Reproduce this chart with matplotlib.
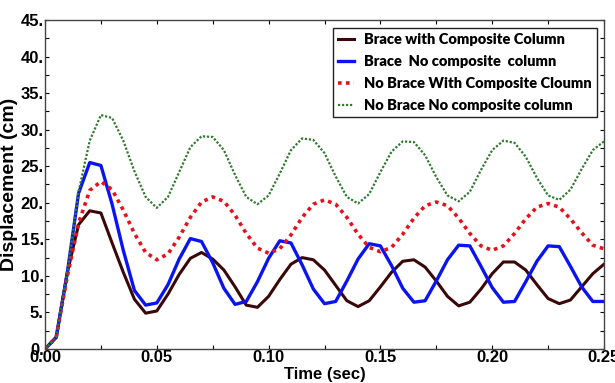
import matplotlib
matplotlib.use("Agg")
import matplotlib.pyplot as plt
from matplotlib.ticker import MultipleLocator, FormatStrFormatter
import numpy as np

# Data (time step 0.005 s)
time_sec = np.round(np.arange(0, 0.2501, 0.005), 3)

brace_composite = [0, 1.6, 10.5, 17.0, 18.9, 18.6, 14.5, 10.5, 6.8, 4.9,
                   5.2, 7.5, 10.2, 12.4, 13.2, 12.3, 10.8, 8.5, 6.0, 5.7,
                   7.2, 9.5, 11.6, 12.5, 12.2, 10.8, 8.7, 6.6, 5.8, 6.6,
                   8.5, 10.5, 12.0, 12.2, 11.2, 9.3, 7.2, 5.9, 6.4, 8.2,
                   10.3, 11.9, 11.9, 10.8, 8.8, 6.9, 6.2, 6.7, 8.5, 10.3,
                   11.6]
brace_no_composite = [0, 1.6, 10.5, 21.3, 25.5, 25.1, 19.8, 13.5, 8.0, 6.0,
                      6.3, 8.8, 12.3, 15.1, 14.7, 11.8, 8.3, 6.1, 6.5, 9.2,
                      12.4, 14.8, 14.5, 11.5, 8.2, 6.2, 6.5, 9.3, 12.3, 14.4,
                      14.1, 11.4, 8.3, 6.4, 6.6, 9.3, 12.2, 14.2, 14.1, 11.3,
                      8.4, 6.4, 6.5, 9.2, 12.0, 14.1, 14.0, 11.3, 8.5, 6.5,
                      6.5]
nobrace_composite = [0, 1.6, 10.0, 17.2, 21.7, 22.9, 21.8, 19.0, 15.8, 13.2,
                     12.2, 13.0, 15.3, 18.0, 20.1, 20.8, 20.2, 18.3, 15.8, 13.8,
                     13.1, 13.7, 15.6, 18.0, 19.8, 20.4, 19.8, 18.0, 15.7, 13.9,
                     13.3, 13.9, 15.7, 17.9, 19.6, 20.1, 19.6, 17.9, 15.8, 14.1,
                     13.5, 14.1, 15.8, 17.8, 19.4, 19.9, 19.4, 17.8, 15.9, 14.2,
                     13.7]
nobrace_no_composite = [0, 1.6, 10.5, 21.5, 28.5, 32.0, 31.6, 28.5, 24.3, 20.8,
                        19.3, 20.8, 24.2, 27.6, 29.1, 29.0, 27.2, 23.8, 20.8, 19.8,
                        21.0, 24.0, 27.2, 28.8, 28.6, 26.8, 23.6, 20.8, 19.9, 21.2,
                        24.2, 27.0, 28.4, 28.3, 26.5, 23.5, 21.0, 20.2, 21.5, 24.5,
                        27.2, 28.5, 28.2, 26.3, 23.4, 21.0, 20.4, 21.8, 24.6, 27.2,
                        28.4]

labels = ["Brace with Composite Column",
          "Brace  No composite  column",
          "No Brace With Composite Cloumn",
          "No Brace No composite column"]

plt.rcParams["font.family"] = ["Liberation Sans Narrow", "Liberation Sans", "DejaVu Sans"]
plt.rcParams["font.weight"] = "bold"

fig = plt.figure(figsize=(6.15, 3.83), dpi=100)
ax = fig.add_axes([0.0732, 0.0888, 0.9089, 0.859])

ax.plot(time_sec, brace_composite, color="#3a0808", lw=2.2, label=labels[0])
ax.plot(time_sec, brace_no_composite, color="#0a14f0", lw=2.4, label=labels[1])
ax.plot(time_sec, nobrace_composite, color="#e8101a", lw=2.6, ls=(0, (1, 1.2)),
        label=labels[2])
ax.plot(time_sec, nobrace_no_composite, color="#2f7a2f", lw=1.6, ls=(0, (1, 0.8)),
        label=labels[3])

ax.set_xlim(0, 0.25)
ax.set_ylim(0, 45)
ax.xaxis.set_major_locator(MultipleLocator(0.05))
ax.xaxis.set_minor_locator(MultipleLocator(0.025))
ax.xaxis.set_major_formatter(FormatStrFormatter("%.2f"))
ax.yaxis.set_major_locator(MultipleLocator(5))
ax.yaxis.set_minor_locator(MultipleLocator(2.5))
ax.yaxis.set_major_formatter(FormatStrFormatter("%d."))
ax.tick_params(which="both", direction="in", top=True, right=True,
               length=3, width=0.8, labelsize=12, pad=1)
for lbl in ax.get_xticklabels() + ax.get_yticklabels():
    lbl.set_fontweight("bold")
for s in ax.spines.values():
    s.set_linewidth(1.0)
    s.set_color("#444444")

ax.set_xlabel("Time (sec)", fontsize=12, fontweight="bold", labelpad=1)
ax.set_ylabel("Displacement (cm)", fontsize=14, fontweight="bold",
              family=["Liberation Sans", "DejaVu Sans"], labelpad=2)

leg = ax.legend(loc="upper right", bbox_to_anchor=(0.988, 0.976), borderaxespad=0,
                prop={"family": ["Lato", "DejaVu Sans"], "weight": "heavy", "size": 10.5},
                handlelength=1.1, handletextpad=0.7, labelspacing=0.62,
                borderpad=0.35, fancybox=False, edgecolor="#222222", framealpha=1)
leg.get_frame().set_linewidth(1.0)

plt.savefig("out.png", dpi=100)
